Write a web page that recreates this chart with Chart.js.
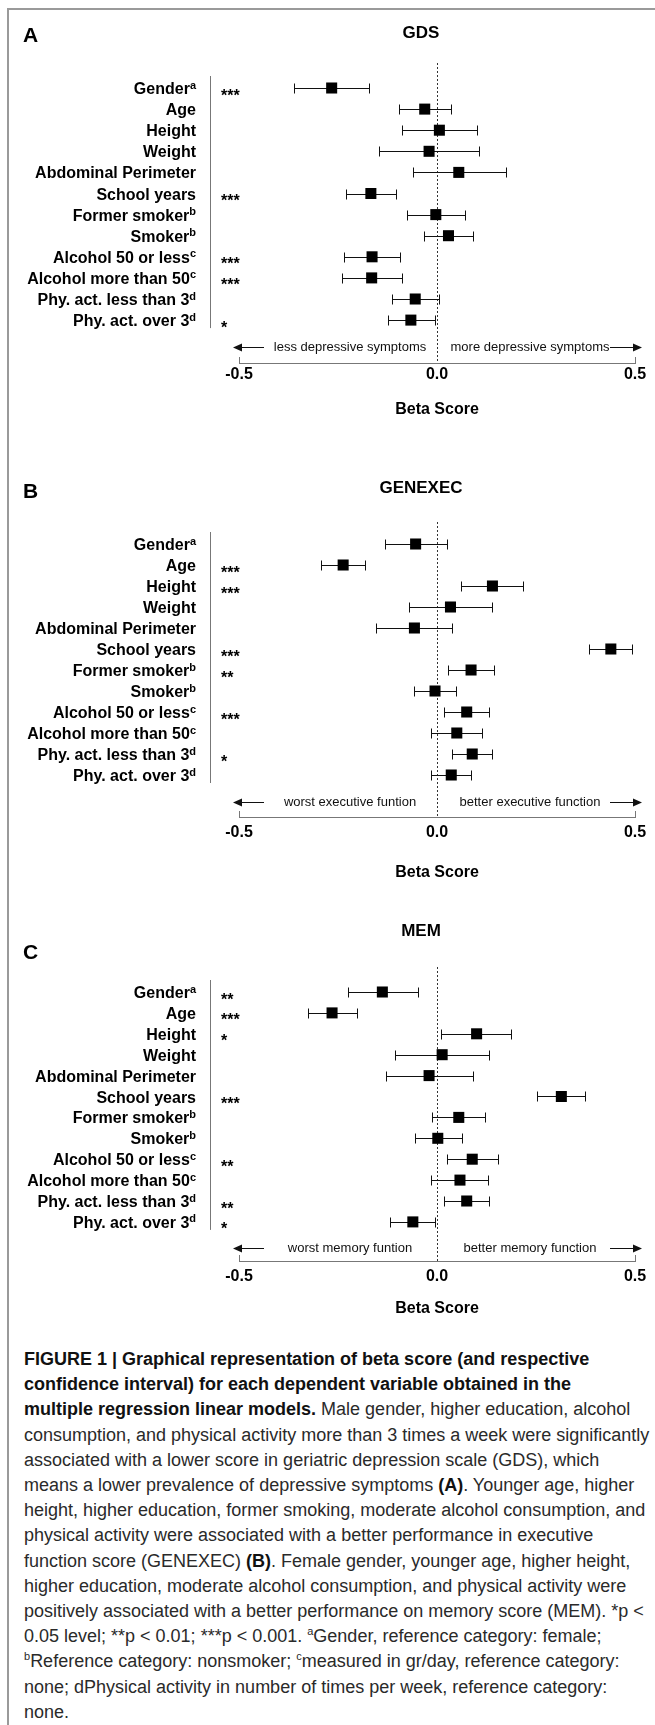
<!DOCTYPE html>
<html>
<head>
<meta charset="utf-8">
<script src="https://cdn.jsdelivr.net/npm/chart.js@4.4.1/dist/chart.umd.min.js"></script>
<style>
  html, body { margin:0; padding:0; background:#fff; width:655px; height:1725px; overflow:hidden; }
  #frame { position:absolute; left:7px; top:8px; width:660px; height:1740px; border-left:2px solid #9a9a9a; border-top:2px solid #9a9a9a; }
  canvas.panel { position:absolute; left:0; }
  #caption { position:absolute; left:24px; top:1347px; font-family:'Liberation Sans', Arial, Helvetica, sans-serif; font-size:18px; line-height:25.2px; color:#2a2a2a; white-space:nowrap; }
  #caption b { color:#111; }
  #caption sup { font-size:11px; line-height:0; vertical-align:7px; }
</style>
</head>
<body>
<div id="frame"></div>
<canvas id="cA" class="panel"></canvas>
<canvas id="cB" class="panel"></canvas>
<canvas id="cC" class="panel"></canvas>
<div id="caption">
<b>FIGURE 1 | Graphical representation of beta score (and respective</b><br>
<b>confidence interval) for each dependent variable obtained in the</b><br>
<b>multiple regression linear models.</b> Male gender, higher education, alcohol<br>
consumption, and physical activity more than 3 times a week were significantly<br>
associated with a lower score in geriatric depression scale (GDS), which<br>
means a lower prevalence of depressive symptoms <b>(A)</b>. Younger age, higher<br>
height, higher education, former smoking, moderate alcohol consumption, and<br>
physical activity were associated with a better performance in executive<br>
function score (GENEXEC) <b>(B)</b>. Female gender, younger age, higher height,<br>
higher education, moderate alcohol consumption, and physical activity were<br>
positively associated with a better performance on memory score (MEM). *p &lt;<br>
0.05 level; **p &lt; 0.01; ***p &lt; 0.001. <sup>a</sup>Gender, reference category: female;<br>
<sup>b</sup>Reference category: nonsmoker; <sup>c</sup>measured in gr/day, reference category:<br>
none; dPhysical activity in number of times per week, reference category:<br>
none.
</div>
<script>
// ---------------- DATA ----------------
const categories = ["Gender", "Age", "Height", "Weight", "Abdominal Perimeter", "School years",
  "Former smoker", "Smoker", "Alcohol 50 or less", "Alcohol more than 50",
  "Phy. act. less than 3", "Phy. act. over 3"];
const superscripts = ["a", "", "", "", "", "", "b", "b", "c", "c", "d", "d"];

const gdsBeta  = [-0.266, -0.031, 0.006, -0.020, 0.055, -0.167, -0.003, 0.029, -0.164, -0.165, -0.055, -0.066];
const gdsLow   = [-0.360, -0.096, -0.088, -0.146, -0.061, -0.231, -0.075, -0.033, -0.234, -0.239, -0.114, -0.125];
const gdsHigh  = [-0.171, 0.036, 0.100, 0.105, 0.174, -0.104, 0.070, 0.092, -0.094, -0.089, 0.004, -0.006];
const gdsStars = ["***", "", "", "", "", "***", "", "", "***", "***", "", "*"];

const execBeta  = [-0.054, -0.237, 0.140, 0.034, -0.057, 0.439, 0.086, -0.005, 0.075, 0.050, 0.089, 0.036];
const execLow   = [-0.132, -0.292, 0.060, -0.070, -0.155, 0.383, 0.028, -0.057, 0.017, -0.015, 0.038, -0.015];
const execHigh  = [0.025, -0.181, 0.216, 0.139, 0.039, 0.492, 0.145, 0.047, 0.131, 0.113, 0.139, 0.086];
const execStars = ["", "***", "***", "", "", "***", "**", "", "***", "", "*", ""];

const memBeta  = [-0.138, -0.265, 0.100, 0.013, -0.020, 0.314, 0.055, 0.002, 0.089, 0.058, 0.075, -0.061];
const memLow   = [-0.226, -0.327, 0.010, -0.106, -0.130, 0.253, -0.012, -0.056, 0.025, -0.014, 0.018, -0.118];
const memHigh  = [-0.049, -0.201, 0.186, 0.131, 0.091, 0.373, 0.122, 0.063, 0.153, 0.128, 0.131, -0.006];
const memStars = ["**", "***", "*", "", "", "***", "", "", "**", "", "**", "*"];

const xTickValues = [-0.5, 0, 0.5];
const xTickLabels = ["-0.5", "0.0", "0.5"];
const xAxisTitle = "Beta Score";

const panelLetters = ["A", "B", "C"];
const panelTitles = ["GDS", "GENEXEC", "MEM"];
const leftNotes = ["less depressive symptoms", "worst executive funtion", "worst memory funtion"];
const rightNotes = ["more depressive symptoms", "better executive function", "better memory function"];

// ---------------- LAYOUT (page pixels) ----------------
const FONT = "'Liberation Sans', Arial, Helvetica, sans-serif";
const CANVAS_H = 440;
const layouts = [
  { canvasTop: 0,   letterY: 36,  titleY: 33,  zeroTop: 63,  row0: 88,  step: 21.1, noteY: 347,  axisY: 363,  tickY: 375,  betaY: 410 },
  { canvasTop: 456, letterY: 492, titleY: 488, zeroTop: 522, row0: 544, step: 21.0, noteY: 802,  axisY: 817,  tickY: 833,  betaY: 873 },
  { canvasTop: 904, letterY: 953, titleY: 931, zeroTop: 967, row0: 992, step: 20.9, noteY: 1248, axisY: 1261, tickY: 1277, betaY: 1309 }
];
const AREA_LEFT = 239, AREA_RIGHT = 635, LABEL_RIGHT = 196, SEP_X = 210, STAR_X = 221;

const series = [
  { beta: gdsBeta,  low: gdsLow,  high: gdsHigh,  stars: gdsStars },
  { beta: execBeta, low: execLow, high: execHigh, stars: execStars },
  { beta: memBeta,  low: memLow,  high: memHigh,  stars: memStars }
];

function arrow(ctx, xFrom, xTo, y) {
  // line from xFrom to xTo with head at xTo
  const dir = Math.sign(xTo - xFrom);
  ctx.beginPath();
  ctx.moveTo(xFrom, y + 0.5); ctx.lineTo(xTo - dir * 7, y + 0.5);
  ctx.stroke();
  ctx.beginPath();
  ctx.moveTo(xTo, y + 0.5);
  ctx.lineTo(xTo - dir * 9, y + 0.5 - 4);
  ctx.lineTo(xTo - dir * 9, y + 0.5 + 4);
  ctx.closePath();
  ctx.fill();
}

function makePlugin(k) {
  const L = layouts[k], S = series[k];
  const off = L.canvasTop;
  return {
    id: 'forest' + k,
    beforeDatasetsDraw(chart) {
      const { ctx, chartArea, scales: { x, y } } = chart;
      ctx.save();
      // zero reference line
      const x0 = Math.round(x.getPixelForValue(0)) + 0.5;
      ctx.strokeStyle = '#333'; ctx.lineWidth = 1; ctx.setLineDash([2, 2]);
      ctx.beginPath(); ctx.moveTo(x0, chartArea.top); ctx.lineTo(x0, chartArea.bottom); ctx.stroke();
      ctx.setLineDash([]);
      // confidence intervals
      ctx.strokeStyle = '#111'; ctx.lineWidth = 1;
      S.low.forEach((lo, i) => {
        const py = Math.round(y.getPixelForValue(i)) + 0.5;
        const xl = Math.round(x.getPixelForValue(lo)) + 0.5;
        const xh = Math.round(x.getPixelForValue(S.high[i])) + 0.5;
        ctx.beginPath();
        ctx.moveTo(xl, py); ctx.lineTo(xh, py);
        ctx.moveTo(xl, py - 5); ctx.lineTo(xl, py + 5);
        ctx.moveTo(xh, py - 5); ctx.lineTo(xh, py + 5);
        ctx.stroke();
      });
      ctx.restore();
    },
    afterDraw(chart) {
      const { ctx, chartArea, scales: { x, y } } = chart;
      ctx.save();
      ctx.fillStyle = '#000';
      // panel letter and title
      ctx.textBaseline = 'middle';
      ctx.font = `bold 21px ${FONT}`; ctx.textAlign = 'left';
      ctx.fillText(panelLetters[k], 23, L.letterY - off);
      ctx.font = `bold 17px ${FONT}`; ctx.textAlign = 'center';
      ctx.fillText(panelTitles[k], 421, L.titleY - off);
      // row labels with superscripts
      categories.forEach((c, i) => {
        const py = y.getPixelForValue(i);
        const sup = superscripts[i];
        ctx.font = `bold 11px ${FONT}`;
        const sw = sup ? ctx.measureText(sup).width : 0;
        ctx.textBaseline = 'alphabetic';
        ctx.font = `bold 16px ${FONT}`; ctx.textAlign = 'right';
        ctx.fillText(c, LABEL_RIGHT - sw, py + 6);
        if (sup) {
          ctx.font = `bold 11px ${FONT}`; ctx.textAlign = 'left';
          ctx.fillText(sup, LABEL_RIGHT - sw, py + 0.5);
        }
        if (S.stars[i]) {
          ctx.font = `bold 16px ${FONT}`; ctx.textAlign = 'left';
          ctx.fillText(S.stars[i], STAR_X, py + 12.5);
        }
      });
      // separator line
      ctx.strokeStyle = '#777'; ctx.lineWidth = 1;
      ctx.beginPath();
      ctx.moveTo(SEP_X + 0.5, y.getPixelForValue(0) - 12);
      ctx.lineTo(SEP_X + 0.5, y.getPixelForValue(categories.length - 1) + 8);
      ctx.stroke();
      // upward end ticks
      ctx.strokeStyle = '#777';
      [xTickValues[0], xTickValues[xTickValues.length - 1]].forEach(v => {
        const px = Math.round(x.getPixelForValue(v)) + 0.5;
        ctx.beginPath(); ctx.moveTo(px, chartArea.bottom); ctx.lineTo(px, chartArea.bottom - 6); ctx.stroke();
      });
      // direction notes
      const ny = L.noteY - off;
      ctx.font = `13px ${FONT}`; ctx.textBaseline = 'middle'; ctx.textAlign = 'center';
      ctx.fillStyle = '#111';
      ctx.fillText(leftNotes[k], 350, ny);
      ctx.fillText(rightNotes[k], 530, ny);
      ctx.strokeStyle = '#111'; ctx.fillStyle = '#111'; ctx.lineWidth = 1;
      arrow(ctx, 264, 233, Math.round(ny));
      arrow(ctx, 610, 642, Math.round(ny));
      // axis title
      ctx.fillStyle = '#000';
      ctx.font = `bold 16px ${FONT}`; ctx.textAlign = 'center';
      ctx.fillText(xAxisTitle, x.getPixelForValue(0), L.betaY - off);
      ctx.restore();
    }
  };
}

function buildChart(k) {
  const L = layouts[k], S = series[k];
  const canvas = document.getElementById(['cA', 'cB', 'cC'][k]);
  canvas.width = 655; canvas.height = CANVAS_H;
  canvas.style.width = '655px'; canvas.style.height = CANVAS_H + 'px';
  canvas.style.top = L.canvasTop + 'px';
  const axisRel = L.axisY - L.canvasTop;
  new Chart(canvas, {
    type: 'scatter',
    data: {
      datasets: [{
        data: S.beta.map((v, i) => ({ x: v, y: i })),
        pointStyle: 'rect',
        pointRadius: 7.8,
        pointHoverRadius: 7.8,
        backgroundColor: '#000',
        borderWidth: 0
      }]
    },
    options: {
      responsive: false,
      animation: false,
      events: [],
      layout: { padding: { left: AREA_LEFT, right: 655 - AREA_RIGHT, top: L.zeroTop - L.canvasTop, bottom: 0 } },
      plugins: { legend: { display: false }, tooltip: { enabled: false } },
      scales: {
        x: {
          type: 'linear',
          position: 'bottom',
          min: xTickValues[0],
          max: xTickValues[xTickValues.length - 1],
          afterBuildTicks: (scale) => { scale.ticks = xTickValues.map(v => ({ value: v })); },
          afterFit: (scale) => { scale.height = CANVAS_H - axisRel; },
          ticks: {
            autoSkip: false,
            maxRotation: 0,
            padding: L.tickY - L.axisY - 9.6,
            color: '#000',
            font: { family: FONT, size: 16, weight: 'bold' },
            callback: (v) => xTickLabels[xTickValues.indexOf(v)]
          },
          grid: { display: false, drawTicks: false },
          border: { display: true, color: '#777', width: 1 }
        },
        y: {
          type: 'linear',
          display: false,
          reverse: true,
          min: (L.zeroTop - L.row0) / L.step,
          max: (L.axisY - L.row0) / L.step
        }
      }
    },
    plugins: [makePlugin(k)]
  });
}

[0, 1, 2].forEach(buildChart);
</script>
</body>
</html>
